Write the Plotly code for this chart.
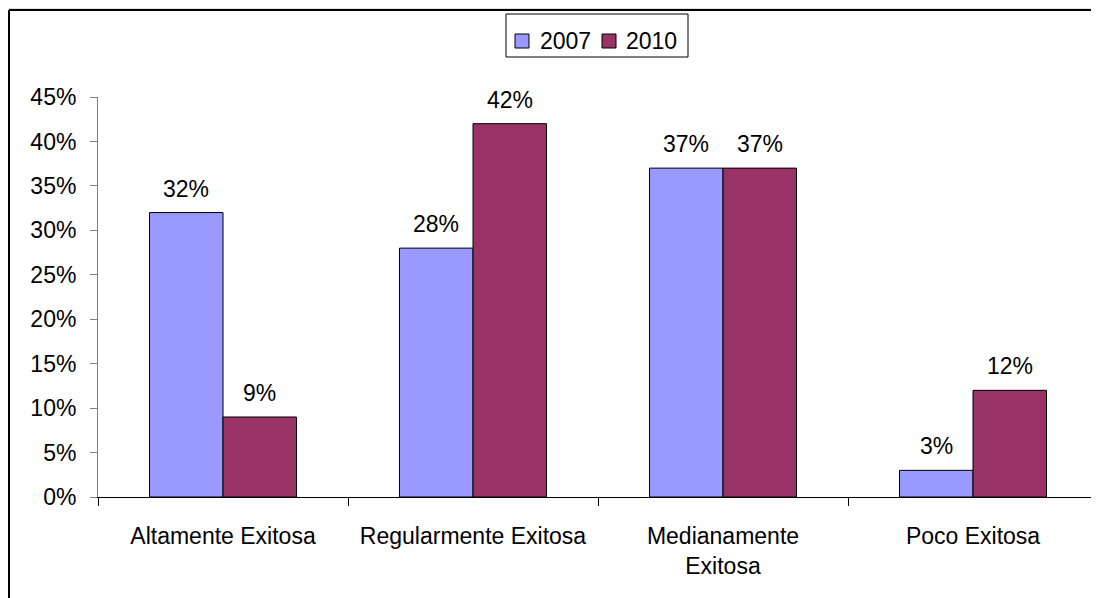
import plotly.graph_objects as go

categories = ["Altamente Exitosa", "Regularmente Exitosa", "Medianamente<br>Exitosa", "Poco Exitosa"]
series_names = ["2007", "2010"]
values_2007 = [0.32, 0.28, 0.37, 0.03]
values_2010 = [0.09, 0.42, 0.37, 0.12]
colors = ["#9999FF", "#993366"]
y_ticks = [0, 0.05, 0.10, 0.15, 0.20, 0.25, 0.30, 0.35, 0.40, 0.45]

FONT = "Arial, Liberation Sans, sans-serif"
FS = 23

fig = go.Figure()
all_vals = [values_2007, values_2010]
for name, vals, col in zip(series_names, all_vals, colors):
    fig.add_trace(go.Bar(
        x=categories, y=vals, name=name,
        marker=dict(color=col, line=dict(color="#000000", width=1)),
        showlegend=False,
    ))

# data labels
annotations = []
offsets = [-36.75, 36.75]
for vals, off in zip(all_vals, offsets):
    for c, v in zip(categories, vals):
        annotations.append(dict(
            x=c, y=v, xref="x", yref="y", text=f"{round(v*100)}%",
            showarrow=False, xshift=off, yshift=24, yanchor="middle",
            font=dict(family=FONT, size=FS, color="#000000"),
        ))

# manual legend (coords given in reference-image pixels)
leg_x0, leg_x1 = 506, 688
leg_y0, leg_y1 = 14, 57
def px(x):
    return (x - 98) / 1000
def py(y):
    return (497 - y) / 400

shapes = [
    # outer chart frame: only left and top edges are visible
    dict(type="line", xref="paper", yref="paper",
         x0=px(9), x1=px(9), y0=py(640), y1=py(10),
         line=dict(color="#000000", width=2)),
    dict(type="line", xref="paper", yref="paper",
         x0=px(9), x1=px(1140), y0=py(10), y1=py(10),
         line=dict(color="#000000", width=2)),
    dict(type="line", xref="paper", yref="paper",
         x0=px(-10), x1=px(1140), y0=py(8), y1=py(8),
         line=dict(color="#C0C0C0", width=1)),
    dict(type="rect", xref="paper", yref="paper",
         x0=px(leg_x0), x1=px(leg_x1), y0=py(leg_y1), y1=py(leg_y0),
         line=dict(color="#000000", width=1), fillcolor="#FFFFFF"),
]
sq_x = [515, 602]
txt_x = [538, 624]
for name, col, sx, tx in zip(series_names, colors, sq_x, txt_x):
    shapes.append(dict(type="rect", xref="paper", yref="paper",
                       x0=px(sx), x1=px(sx + 14), y0=py(48), y1=py(34),
                       line=dict(color="#000000", width=1), fillcolor=col))
    annotations.append(dict(x=px(tx), y=py(41), xref="paper", yref="paper",
                            text=name, showarrow=False, xanchor="left", yanchor="middle",
                            font=dict(family=FONT, size=FS, color="#000000")))

fig.update_layout(
    width=1099, height=598,
    margin=dict(l=90, r=9, t=89, b=109),
    paper_bgcolor="#FFFFFF", plot_bgcolor="#FFFFFF",
    barmode="group", bargap=0.412, bargroupgap=0,
    font=dict(family=FONT, size=FS, color="#000000"),
    annotations=annotations, shapes=shapes,
    showlegend=False,
)
fig.update_xaxes(
    type="category", showgrid=False, showline=True, linecolor="#000000", linewidth=1,
    ticks="outside", tickson="boundaries", ticklen=8, tickcolor="#000000",
    ticklabelstandoff=18, tickfont=dict(family=FONT, size=FS, color="#000000"),
    range=[-0.5, 3.5], zeroline=False,
)
fig.update_yaxes(
    range=[0, 0.45], tickvals=y_ticks, tickformat=".0%",
    showgrid=False, showline=True, linecolor="#808080", linewidth=1,
    ticks="outside", ticklen=7, tickcolor="#808080",
    ticklabelstandoff=9, tickfont=dict(family=FONT, size=FS, color="#000000"),
    zeroline=False,
)

fig.write_html("out.html")
